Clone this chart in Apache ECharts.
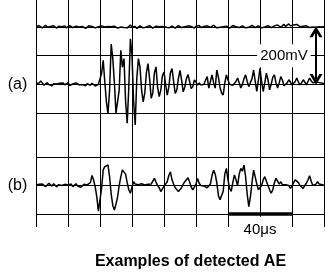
<!DOCTYPE html>
<html>
<head>
<meta charset="utf-8">
<script src="https://cdn.jsdelivr.net/npm/echarts@6/dist/echarts.min.js"></script>
<style>
html,body{margin:0;padding:0;background:#fff;}
#c{width:325px;height:276px;}
</style>
</head>
<body>
<div id="c"></div>
<script>
// sampling step of the recorded waveforms (microseconds)
const sampleStepUs = 1;

// reference channel (mV), one value per microsecond, 0..180 us
const topTrace = [
 202,198,204,201,197,203,206,199,195,202,
 200,204,198,196,203,207,201,199,204,197,
 200,205,202,198,201,203,197,200,206,202,
 199,195,201,204,198,202,200,197,203,201,
 199,204,206,200,197,202,198,201,205,203,
 199,196,202,200,204,198,201,197,203,207,
 200,198,202,195,199,204,201,197,203,200,
 198,205,202,196,200,203,199,201,206,202,
 198,200,204,197,201,203,199,196,202,205,
 200,198,203,201,197,204,200,202,199,196,
 203,201,205,198,200,202,197,204,201,199,
 203,206,200,197,202,199,204,201,198,203,
 200,196,202,205,199,201,203,198,200,204,
 202,197,201,199,203,206,200,198,202,204,
 201,197,203,200,199,205,202,198,201,204,
 200,207,203,199,205,209,202,206,211,204,
 200,207,203,209,205,201,206,203,199,204,
 201,198,203,200,202,199,203,201,204,200,
 202
];

// AE waveform (a) (mV)
const traceA = [
 3,-2,5,12,4,-3,2,6,-1,4,
 -5,2,7,1,-3,4,0,5,-2,3,
 6,-4,2,1,-3,5,2,-2,4,-1,
 3,-5,2,0,-3,4,1,-6,-2,0,
 5,38,84,9,-60,-102,-20,140,90,5,
 -100,-95,-20,119,60,90,-60,-136,-10,159,
 100,-60,-142,20,90,60,-20,-61,-30,40,
 72,20,-49,-30,40,61,-10,-43,-20,30,
 43,0,-38,-10,40,55,10,-32,-20,20,
 49,15,-26,-10,20,34,10,-15,-8,15,
 8,-3,5,-2,4,0,15,27,-13,10,
 33,5,-13,50,25,-10,-30,-37,5,33,
 15,0,3,-3,2,10,22,5,-13,0,
 20,33,10,-8,-13,20,50,10,-25,15,
 56,10,-25,5,39,15,-19,0,25,33,
 5,-13,5,27,15,-5,-8,5,16,8,
 -3,-8,10,22,8,-2,5,16,8,-2,
 10,22,12,5,4,8,12,6,3,4,
 2
];

// AE waveform (b) (mV)
const traceB = [
 2,-3,4,-1,5,0,-4,3,8,2,
 -2,6,1,-5,3,7,0,-3,4,9,
 2,-1,5,-4,2,6,-2,3,-6,1,
 4,-3,2,8,10,35,20,-5,-40,-90,
 -85,-10,55,66,70,72,30,-30,-70,-86,
 -65,-40,0,30,55,60,40,10,-15,-27,
 -5,13,5,0,3,-4,6,13,2,-3,
 4,8,5,15,25,12,0,-8,-21,-12,
 -3,5,13,35,48,20,5,-8,-15,-21,
 -15,-8,5,13,20,27,12,-5,-15,-19,
 5,25,8,0,3,-2,2,-8,-5,5,
 35,54,40,10,-35,-50,-56,-20,40,60,
 20,-10,-21,10,37,20,0,40,60,50,
 72,30,-30,-74,-40,10,54,30,5,-15,
 -21,0,20,31,15,0,-15,-27,-15,10,
 25,15,5,13,3,-3,3,8,0,-10,
 -2,10,20,25,10,0,-5,-10,0,8,
 20,34,15,0,-3,5,13,5,0,3,
 0
];

const panelLabels = ['(a)', '(b)'];
const titleText = 'Examples of detected AE';
const voltScaleLabel = '200mV';
const timeScaleLabel = '40\u03bcs';
const timeRange = [0, 180];       // us, 20 us / division
const topRange = [-100, 200];     // mV, 100 mV / division
const bottomRange = [-100, 100];  // mV
const voltArrow = [175, 183, 17]; // time, upper end, lower end (mV)
const voltLabelAt = [155, 100];
const timeBar = [120, 160, -100]; // from, to (us), level (mV)
const timeLabelAt = [140, -155];

const toPairs = arr => arr.map((v, i) => [i * sampleStepUs, v]);
const black = '#000';
const font = '"Liberation Sans", Arial, sans-serif';
const chevron = 'path://M5,0 L10,9 L7.6,9 L5,4.2 L2.4,9 L0,9 Z';
const hiddenParts = {axisLine: {show: false}, axisTick: {show: false}, axisLabel: {show: false}};
const gridLine = {show: true, lineStyle: {color: black, width: 1, type: 'solid'}};
const traceStyle = {type: 'line', showSymbol: false, symbol: 'none', clip: false, silent: true,
  lineStyle: {color: black, width: 1.5}, emphasis: {disabled: true}};

const chart = echarts.init(document.getElementById('c'), null, {renderer: 'canvas'});
const option = {
  animation: false,
  grid: [
    {left: 36, top: 0, width: 288, height: 227},
    {left: 36, top: 27, width: 288, height: 86},
    {left: 36, top: 157, width: 288, height: 57}
  ],
  xAxis: [
    Object.assign({gridIndex: 0, type: 'value', min: timeRange[0], max: timeRange[1], interval: 20, splitLine: gridLine}, hiddenParts),
    {gridIndex: 1, type: 'value', min: timeRange[0], max: timeRange[1], show: false},
    {gridIndex: 2, type: 'value', min: timeRange[0], max: timeRange[1], show: false}
  ],
  yAxis: [
    {gridIndex: 0, type: 'value', min: 0, max: 1, show: false},
    Object.assign({gridIndex: 1, type: 'value', min: topRange[0], max: topRange[1], interval: 100, splitLine: gridLine}, hiddenParts),
    Object.assign({gridIndex: 2, type: 'value', min: bottomRange[0], max: bottomRange[1], interval: 100, splitLine: gridLine}, hiddenParts)
  ],
  series: [
    Object.assign({}, traceStyle, {name: 'ref', xAxisIndex: 1, yAxisIndex: 1, data: toPairs(topTrace)}),
    Object.assign({}, traceStyle, {name: panelLabels[0], xAxisIndex: 1, yAxisIndex: 1, data: toPairs(traceA),
      markLine: {
        silent: true, symbol: [chevron, chevron], symbolSize: [13, 11],
        label: {show: false}, emphasis: {disabled: true},
        lineStyle: {color: black, width: 2, type: 'solid'},
        data: [[{coord: [voltArrow[0], voltArrow[1]]}, {coord: [voltArrow[0], voltArrow[2]]}]]
      },
      markPoint: {
        silent: true, symbol: 'circle', symbolSize: 1, itemStyle: {color: 'rgba(0,0,0,0)'},
        label: {show: true, position: 'inside', formatter: voltScaleLabel, color: black, fontSize: 15,
          fontFamily: font, backgroundColor: '#fff', padding: [4, 3]},
        data: [{coord: voltLabelAt}]
      }
    }),
    Object.assign({}, traceStyle, {name: panelLabels[1], xAxisIndex: 2, yAxisIndex: 2, data: toPairs(traceB),
      markLine: {
        silent: true, symbol: 'none', label: {show: false}, emphasis: {disabled: true},
        lineStyle: {color: black, width: 3.5, type: 'solid'},
        data: [[{coord: [timeBar[0], timeBar[2]]}, {coord: [timeBar[1], timeBar[2]]}]]
      }
    })
  ]
};
chart.setOption(option);

// position the time-scale label through the bottom panel's scales
const tl = chart.convertToPixel({xAxisIndex: 2, yAxisIndex: 2}, timeLabelAt);
const textStyle = (text, f) => ({text: text, font: f, fill: black, textAlign: 'center', textVerticalAlign: 'middle', align: 'center', verticalAlign: 'middle'});
chart.setOption({
  graphic: [
    {type: 'rect', x: tl[0] - 19, y: tl[1] - 13, shape: {width: 38, height: 22}, style: {fill: '#fff'}, silent: true, z: 10},
    {type: 'text', x: tl[0], y: tl[1], silent: true, z: 11, style: textStyle(timeScaleLabel, '15px ' + font)},
    {type: 'text', x: 17.5, y: 85, silent: true, style: textStyle(panelLabels[0], '16px ' + font)},
    {type: 'text', x: 17.5, y: 186, silent: true, style: textStyle(panelLabels[1], '16px ' + font)},
    {type: 'text', x: 190.5, y: 262, silent: true, style: textStyle(titleText, 'bold 16px ' + font)}
  ]
});
</script>
</body>
</html>
